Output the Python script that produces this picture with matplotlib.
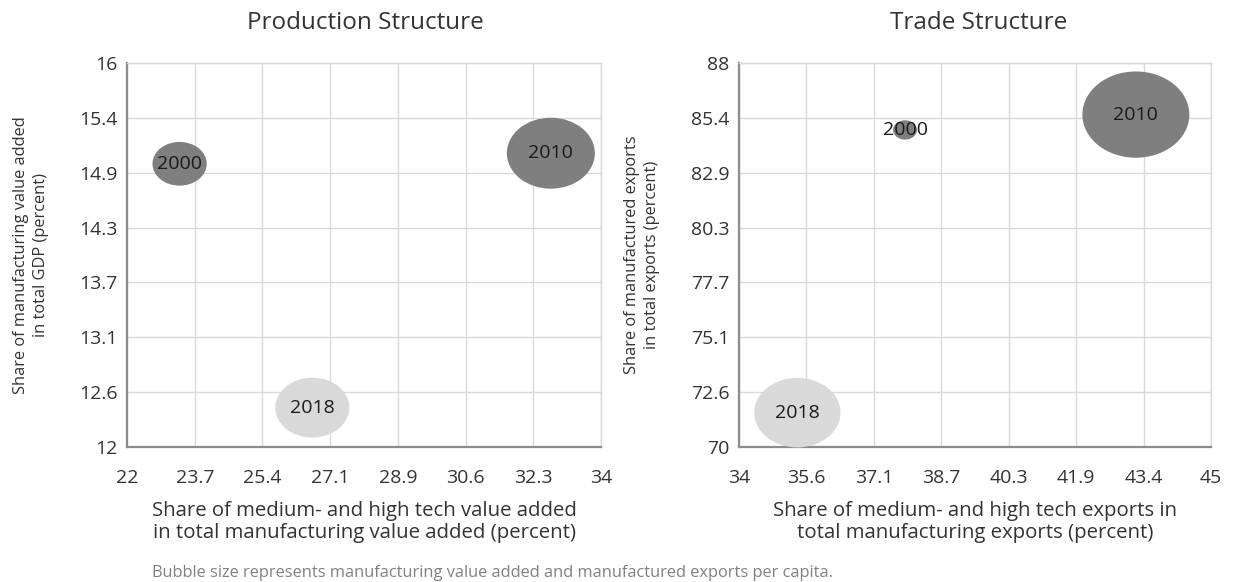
import numpy as np
import matplotlib.pyplot as plt
from matplotlib.path import Path
from matplotlib.transforms import Affine2D

plt.rcParams['font.family'] = ['Open Sans', 'DejaVu Sans']

years = ['2000', '2010', '2018']

# production structure panel
prod_x = [23.33, 32.73, 26.69]
prod_y = [14.95, 15.06, 12.41]
prod_size = [0.38, 1.0, 0.71]   # relative bubble size (per capita)
prod_xticks = ['22', '23.7', '25.4', '27.1', '28.9', '30.6', '32.3', '34']
prod_yticks = ['12', '12.6', '13.1', '13.7', '14.3', '14.9', '15.4', '16']

# trade structure panel
trade_x = [37.87, 43.25, 35.36]
trade_y = [84.86, 85.58, 71.61]
trade_size = [0.05, 1.0, 0.65]
trade_xticks = ['34', '35.6', '37.1', '38.7', '40.3', '41.9', '43.4', '45']
trade_yticks = ['70', '72.6', '75.1', '77.7', '80.3', '82.9', '85.4', '88']

bubble_colors = ['#7f7f7f', '#7f7f7f', '#d9d9d9']
text_color = '#333333'

# bubbles in the source are a bit wider than tall
ellipse = Path.unit_circle().transformed(Affine2D().scale(1.24, 1.0))


def draw_panel(ax, xs, ys, sizes, xticks, yticks, max_diam, xlabel, ylabel, ylab_x):
    xt = np.linspace(float(xticks[0]), float(xticks[-1]), len(xticks))
    yt = np.linspace(float(yticks[0]), float(yticks[-1]), len(yticks))
    ax.set_xlim(xt[0], xt[-1])
    ax.set_ylim(yt[0], yt[-1])
    ax.set_xticks(xt)
    ax.set_xticklabels(xticks)
    ax.set_yticks(yt)
    ax.set_yticklabels(yticks)
    ax.grid(True, color='#d9d9d9', linewidth=1.0)
    ax.set_axisbelow(True)
    ax.tick_params(length=0, labelsize=14, colors=text_color)
    ax.tick_params(axis='x', pad=16)
    ax.tick_params(axis='y', pad=7)
    for side in ['top', 'right']:
        ax.spines[side].set_color('#d9d9d9')
        ax.spines[side].set_linewidth(1.0)
    for side in ['left', 'bottom']:
        ax.spines[side].set_color('#8c8c8c')
        ax.spines[side].set_linewidth(1.6)

    s = [v * (max_diam * 0.72) ** 2 for v in sizes]
    ax.scatter(xs, ys, s=s, c=bubble_colors, marker=ellipse, linewidths=0,
               clip_on=False, zorder=3)
    for x, y, yr in zip(xs, ys, years):
        ax.text(x, y, yr, ha='center', va='center', fontsize=14,
                color='#1a1a1a', zorder=4)

    ax.set_xlabel(xlabel, fontsize=14.7, color=text_color, labelpad=10,
                  linespacing=1.15)
    ax.set_ylabel(ylabel, fontsize=11.8, color=text_color, linespacing=1.3)
    ax.yaxis.set_label_coords(ylab_x, 0.5)


fig = plt.figure(figsize=(12.42, 5.82), dpi=100)
ax1 = fig.add_axes([0.1023, 0.232, 0.3816, 0.6598])
ax2 = fig.add_axes([0.595, 0.232, 0.380, 0.6598])

draw_panel(ax1, prod_x, prod_y, prod_size, prod_xticks, prod_yticks, 88,
           'Share of medium- and high tech value added\nin total manufacturing value added (percent)',
           'Share of manufacturing value added\nin total GDP (percent)', -0.165)
draw_panel(ax2, trade_x, trade_y, trade_size, trade_xticks, trade_yticks, 107,
           'Share of medium- and high tech exports in\ntotal manufacturing exports (percent)',
           'Share of manufactured exports\nin total exports (percent)', -0.168)

fig.text(0.294, 0.960, 'Production Structure', ha='center', va='center',
         fontsize=17.5, color=text_color)
fig.text(0.788, 0.960, 'Trade Structure', ha='center', va='center',
         fontsize=17.5, color=text_color)
fig.text(0.122, 0.015, 'Bubble size represents manufacturing value added and manufactured exports per capita.',
         ha='left', va='center', fontsize=11.8, color='#808080')

fig.savefig('out.png', dpi=100)
